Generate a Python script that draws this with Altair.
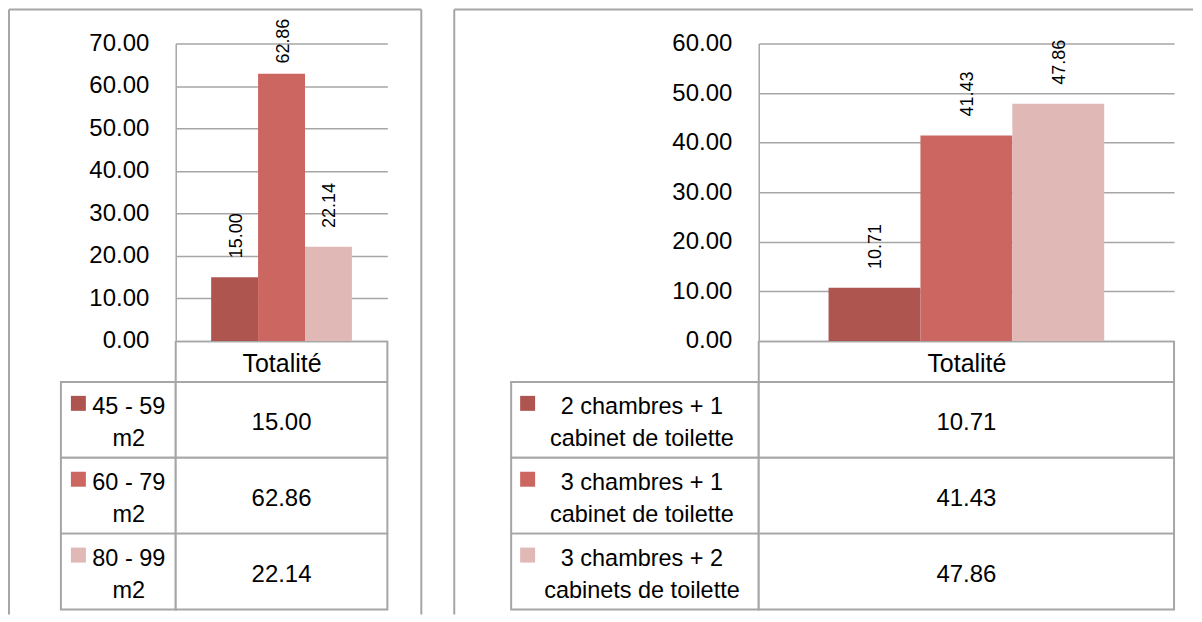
import altair as alt
import pandas as pd

category = "Totalité"
colors = ["#AE5550", "#CC6660", "#E0B8B6"]

left_series = ["45 - 59 m2", "60 - 79 m2", "80 - 99 m2"]
left_values = [15.00, 62.86, 22.14]
left_ticks = [0, 10, 20, 30, 40, 50, 60, 70]

right_series = [
    "2 chambres + 1 cabinet de toilette",
    "3 chambres + 1 cabinet de toilette",
    "3 chambres + 2 cabinets de toilette",
]
right_values = [10.71, 41.43, 47.86]
right_ticks = [0, 10, 20, 30, 40, 50, 60]

FONT = "Liberation Sans"
GRAY = "#A6A6A6"
PLOT_H = 298


def panel(names, values, ticks, width, legend_w, text_cx, sq_x, label_cap,
          wrap_expr, border_left, border_right, top_right, pad_outer):
    df = pd.DataFrame({
        "series": names,
        "value": values,
        "row": list(range(len(names))),
    })
    base = alt.Chart(df)
    ymax = max(ticks)
    yv = alt.Scale(domain=[0, ymax], nice=False, zero=True)
    yaxis = alt.Axis(title=None, values=ticks, format=".2f", ticks=False,
                     labelPadding=27, labelFontSize=24, labelColor="#000",
                     domainColor=GRAY, domainWidth=1.5,
                     gridColor=GRAY, gridWidth=1.5, gridOpacity=1, grid=True)
    xenc = alt.X(
        "series:N", sort=names,
        scale=alt.Scale(paddingInner=0, paddingOuter=pad_outer),
        axis=alt.Axis(title=category, labels=False, ticks=False, titlePadding=11,
                      titleFontSize=25, titleFontWeight="normal", titleColor="#000",
                      domainColor=GRAY, domainWidth=1.5, grid=False),
    )
    color = alt.Color("series:N", scale=alt.Scale(domain=names, range=colors),
                      legend=None)

    bars = base.mark_bar().encode(
        x=xenc,
        y=alt.Y("value:Q", scale=yv, axis=yaxis),
        color=color,
    )
    labels = base.transform_calculate(
        lab=f"min(datum.value, {label_cap})"
    ).mark_text(angle=270, align="left", baseline="middle", dx=19, dy=2,
                fontSize=18, color="#000").encode(
        x=xenc,
        y=alt.Y("lab:Q", scale=yv, axis=yaxis),
        text=alt.Text("value:Q", format=".2f"),
    )
    chart_part = alt.layer(bars, labels)

    ts = alt.Scale(domain=[0, len(names)], range=[339, 567], nice=False, zero=False)
    tbase = base.transform_calculate(
        row_end="datum.row + 1",
        mid="datum.row + 0.5",
        sq="datum.row + 0.283",
        wrapped=wrap_expr,
    )
    leg_cells = tbase.mark_rect(fill="white", stroke=GRAY, strokeWidth=2).encode(
        x=alt.value(-legend_w), x2=alt.value(0),
        y=alt.Y("row:Q", scale=ts, axis=None), y2="row_end:Q")
    val_cells = tbase.mark_rect(fill="white", stroke=GRAY, strokeWidth=2).encode(
        x=alt.value(0), x2=alt.value(width),
        y=alt.Y("row:Q", scale=ts, axis=None), y2="row_end:Q")
    squares = tbase.mark_square(size=225, opacity=1).encode(
        x=alt.value(sq_x),
        y=alt.Y("sq:Q", scale=ts, axis=None),
        color=color)
    leg_text = tbase.mark_text(lineBreak="|", lineHeight=32, align="center",
                               baseline="middle", fontSize=23.5, dy=-13,
                               color="#000").encode(
        x=alt.value(text_cx),
        y=alt.Y("mid:Q", scale=ts, axis=None),
        text="wrapped:N")
    val_text = tbase.mark_text(align="center", baseline="middle", fontSize=24,
                               dy=3, color="#000").encode(
        x=alt.value(width / 2),
        y=alt.Y("mid:Q", scale=ts, axis=None),
        text=alt.Text("value:Q", format=".2f"))
    table_part = alt.layer(leg_cells, val_cells, squares, leg_text, val_text)

    rule = alt.Chart(pd.DataFrame({"k": [0]})).mark_rule(color=GRAY, strokeWidth=2)
    deco = [
        rule.encode(x=alt.value(0), y=alt.value(PLOT_H), y2=alt.value(339)),
        rule.encode(x=alt.value(width), y=alt.value(PLOT_H), y2=alt.value(339)),
        rule.encode(x=alt.value(border_left), y=alt.value(-34), y2=alt.value(572)),
        rule.encode(x=alt.value(border_left), x2=alt.value(top_right), y=alt.value(-34)),
    ]
    if border_right is not None:
        deco.append(rule.encode(x=alt.value(border_right), y=alt.value(-34),
                                y2=alt.value(572)))

    return alt.layer(chart_part, table_part, *deco).resolve_scale(
        y="independent"
    ).properties(width=width, height=PLOT_H)


left = panel(left_series, left_values, left_ticks, width=212, legend_w=115,
             text_cx=-47, sq_x=-97.5, label_cap=60.8,
             wrap_expr="replace(datum.series, ' m2', '|m2')",
             border_left=-167, border_right=246, top_right=246, pad_outer=0.755)

right = panel(right_series, right_values, right_ticks, width=416, legend_w=248,
              text_cx=-117, sq_x=-231.5, label_cap=60,
              wrap_expr="replace(datum.series, ' cabinet', '|cabinet')",
              border_left=-305, border_right=None, top_right=435, pad_outer=0.76)

chart = alt.hconcat(left, right, spacing=372, bounds="flush").properties(
    padding=0
).configure(font=FONT).configure_view(stroke=None)

chart.save("out.html", embed_options={"renderer": "svg", "actions": False})
